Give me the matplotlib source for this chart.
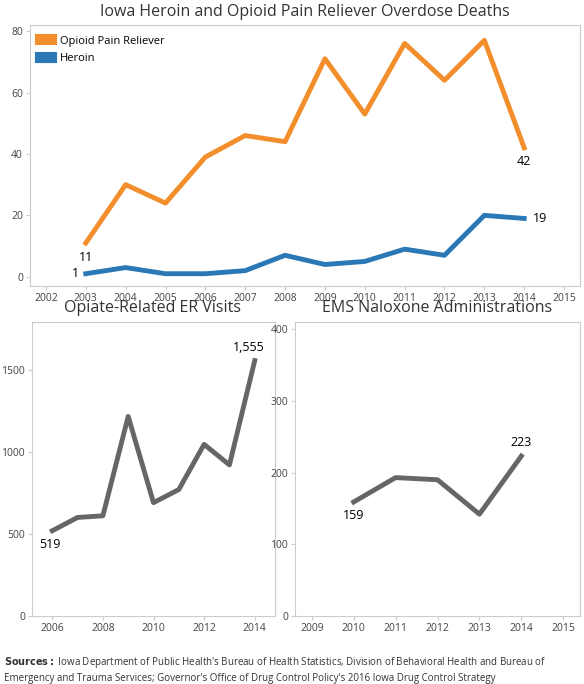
import matplotlib
matplotlib.use("Agg")
import matplotlib.pyplot as plt

plt.rcParams['font.family'] = ['Open Sans', 'DejaVu Sans']

years = [2003, 2004, 2005, 2006, 2007, 2008, 2009, 2010, 2011, 2012, 2013, 2014]
opioid = [11, 30, 24, 39, 46, 44, 71, 53, 76, 64, 77, 42]
heroin = [1, 3, 1, 1, 2, 7, 4, 5, 9, 7, 20, 19]
er_years = [2006, 2007, 2008, 2009, 2010, 2011, 2012, 2013, 2014]
er_visits = [519, 600, 610, 1215, 690, 770, 1045, 920, 1555]
ems_years = [2010, 2011, 2012, 2013, 2014]
ems_nal = [159, 193, 190, 142, 223]

ORANGE = '#f28e2b'
BLUE = '#2a78b5'
GRAY = '#666666'

fig = plt.figure(figsize=(5.84, 6.84), dpi=100)
W, H = 584, 684
def ax_at(x0, y0, x1, y1):
    return fig.add_axes([x0/W, 1-y1/H, (x1-x0)/W, (y1-y0)/H])

def style(ax):
    for s in ax.spines.values():
        s.set_color('#cccccc'); s.set_linewidth(0.8)
    ax.tick_params(labelsize=7.5, colors='#444444', length=3, color='#cccccc', pad=2)

ax = ax_at(30, 25, 580, 286)
style(ax)
ax.plot(years, opioid, color=ORANGE, lw=3.5, label='Opioid Pain Reliever')
ax.plot(years, heroin, color=BLUE, lw=3.5, label='Heroin')
ax.set_xlim(2001.6, 2015.4); ax.set_ylim(-3, 82)
ax.set_xticks(range(2002, 2016)); ax.set_yticks([0, 20, 40, 60, 80])
ax.annotate('11', (2003, 11), xytext=(0, -6), textcoords='offset points', ha='center', va='top', fontsize=9)
ax.annotate('1', (2003, 1), xytext=(-5, 0), textcoords='offset points', ha='right', va='center', fontsize=9)
ax.annotate('42', (2014, 42), xytext=(0, -5), textcoords='offset points', ha='center', va='top', fontsize=9)
ax.annotate('19', (2014, 19), xytext=(6, 0), textcoords='offset points', ha='left', va='center', fontsize=9)
ax.legend(loc='upper left', frameon=False, fontsize=8, handlelength=1, handleheight=1)
for h in ax.get_legend().legend_handles:
    h.set_linewidth(8)
fig.text(305/W, 1-12/H, 'Iowa Heroin and Opioid Pain Reliever Overdose Deaths', ha='center', va='center', fontsize=11.5, color='#333333')

ax2 = ax_at(32, 322, 275, 616)
style(ax2)
ax2.plot(er_years, er_visits, color=GRAY, lw=3.5)
ax2.set_xlim(2005.2, 2014.8); ax2.set_ylim(0, 1790)
ax2.set_xticks([2006, 2008, 2010, 2012, 2014]); ax2.set_yticks([0, 500, 1000, 1500])
ax2.annotate('519', (2006, 519), xytext=(-2, -5), textcoords='offset points', ha='center', va='top', fontsize=9)
ax2.annotate('1,555', (2014, 1555), xytext=(-4, 5), textcoords='offset points', ha='center', va='bottom', fontsize=9)
fig.text(152/W, 1-308/H, 'Opiate-Related ER Visits', ha='center', va='center', fontsize=11.5, color='#333333')

ax3 = ax_at(295, 322, 580, 616)
style(ax3)
ax3.plot(ems_years, ems_nal, color=GRAY, lw=3.5)
ax3.set_xlim(2008.6, 2015.4); ax3.set_ylim(0, 410)
ax3.set_xticks(range(2009, 2016)); ax3.set_yticks([0, 100, 200, 300, 400])
ax3.annotate('159', (2010, 159), xytext=(0, -5), textcoords='offset points', ha='center', va='top', fontsize=9)
ax3.annotate('223', (2014, 223), xytext=(0, 5), textcoords='offset points', ha='center', va='bottom', fontsize=9)
fig.text(437/W, 1-308/H, 'EMS Naloxone Administrations', ha='center', va='center', fontsize=11.5, color='#333333')

fig.text(4/W, 1-655/H, r"$\bf{Sources:}$ Iowa Department of Public Health's Bureau of Health Statistics, Division of Behavioral Health and Bureau of" + "\nEmergency and Trauma Services; Governor's Office of Drug Control Policy's 2016 Iowa Drug Control Strategy",
         ha='left', va='top', fontsize=7, color='#333333', linespacing=1.4)

fig.savefig('out.png', dpi=100)
